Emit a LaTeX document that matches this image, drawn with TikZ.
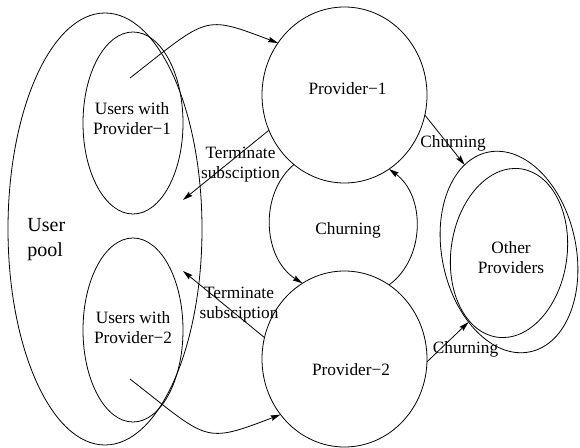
\documentclass[tikz,border=0pt]{standalone}
\usepackage{fontspec}
\setmainfont{Liberation Serif}
\usetikzlibrary{shapes.geometric,arrows.meta}

\begin{document}
\begin{tikzpicture}[x=1pt,y=1pt,
  line width=0.8pt,
  oval/.style={draw, ellipse, inner sep=0pt, outer sep=0pt},
  txt/.style={inner sep=0pt, align=center, font=\fontsize{17.3}{20}\selectfont},
  flow/.style={draw, -{Stealth[length=10pt,width=5.5pt,inset=1.5pt]}},
]
\useasboundingbox (0,0) rectangle (580,447);

% user pool and the two subscriber groups
\node[oval, minimum width=194pt, minimum height=432pt] (pool) at (105,218) {};
\node[oval, minimum width=100pt, minimum height=182pt] (u1) at (133,324) {};
\node[oval, minimum width=100pt, minimum height=184pt] (u2) at (133,117) {};

% providers
\node[oval, minimum width=165pt, minimum height=176pt] (p1) at (344.5,352) {};
\node[oval, minimum width=165pt, minimum height=176pt] (p2) at (344.5,88) {};

% other providers (two tilted outlines touching at the corners)
\node[oval, minimum width=134pt, minimum height=204pt, rotate=12] (oo) at (509,195) {};
\node[oval, minimum width=116pt, minimum height=170pt, rotate=-8] (oi) at (509,194) {};

% labels
\node[inner sep=0pt, anchor=west, align=left, font=\fontsize{20}{25}\selectfont] (tpool) at (27,207) {User\\pool};
\node[txt] (tu1) at (132,328) {Users with\\Provider−1};
\node[txt] (tu2) at (133,119) {Users with\\Provider−2};
\node[txt] (tp1) at (347.5,358) {Provider−1};
\node[txt] (tp2) at (351,77) {Provider−2};
\node[txt] (tch) at (348,216.5) {Churning};
\node[txt] (toth) at (511,189.5) {Other\\Providers};
\node[txt] (tterm1) at (240.5,282) {Terminate\\subsciption};
\node[txt] (tterm2) at (239,142) {Terminate\\subsciption};
\node[txt] (tch1) at (453,303.5) {Churning};
\node[txt] (tch2) at (465.5,98) {Churning};

% subscribing
\coordinate (s1) at (130,369);
\coordinate (s2) at (130,68);
\draw[flow] (s1) .. controls (208.8,430.6) and (202.8,432.4) .. (p1.142);
\draw[flow] (s2) .. controls (208.8,6.4) and (202.8,2.6) .. (p2.221);

% terminating back into the pool
\coordinate (r1) at (183,247);
\coordinate (r2) at (183,176);
\draw[flow] (p1.205) -- (r1);
\draw[flow] (p2.165) -- (r2);

% churning between the two providers
\draw[flow] (p1.234) to[bend right=54] (p2.119);
\draw[flow] (p2.59) to[bend right=54] (p1.301);

% churning to other providers
\draw[flow] (p1.346) -- (oo.105);
\draw[flow] (p2.358) -- (oo.228);
\end{tikzpicture}
\end{document}
